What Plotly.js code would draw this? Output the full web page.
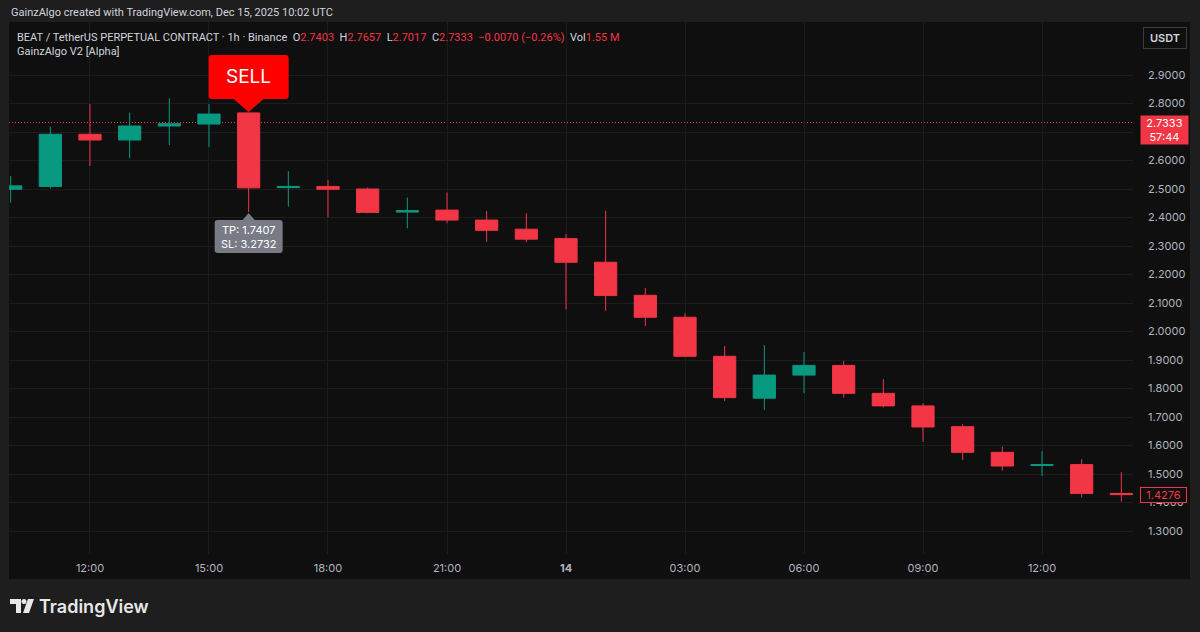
<!DOCTYPE html>
<html>
<head>
<meta charset="utf-8">
<script src="https://cdn.plot.ly/plotly-3.0.1.min.js"></script>
<style>
  html, body { margin: 0; padding: 0; background: #1e1e1e; }
  #chart { width: 1200px; height: 632px; }
</style>
</head>
<body>
<div id="chart"></div>
<script>
// ---- data ----
const times = [
  "2025-12-13 10:00","2025-12-13 11:00","2025-12-13 12:00","2025-12-13 13:00","2025-12-13 14:00",
  "2025-12-13 15:00","2025-12-13 16:00","2025-12-13 17:00","2025-12-13 18:00","2025-12-13 19:00",
  "2025-12-13 20:00","2025-12-13 21:00","2025-12-13 22:00","2025-12-13 23:00","2025-12-14 00:00",
  "2025-12-14 01:00","2025-12-14 02:00","2025-12-14 03:00","2025-12-14 04:00","2025-12-14 05:00",
  "2025-12-14 06:00","2025-12-14 07:00","2025-12-14 08:00","2025-12-14 09:00","2025-12-14 10:00",
  "2025-12-14 11:00","2025-12-14 12:00","2025-12-14 13:00","2025-12-14 14:00"
];
const opens  = [2.499,2.509,2.692,2.672,2.721,2.728,2.767,2.505,2.509,2.500,2.419,2.426,2.391,2.359,2.326,2.243,2.127,2.050,1.913,1.766,1.847,1.881,1.783,1.739,1.666,1.576,1.530,1.533,1.432];
const highs  = [2.546,2.719,2.798,2.768,2.818,2.798,2.767,2.563,2.532,2.505,2.470,2.488,2.423,2.415,2.342,2.424,2.153,2.064,1.949,1.952,1.928,1.897,1.833,1.748,1.675,1.596,1.581,1.552,1.506];
const lows   = [2.452,2.502,2.581,2.608,2.654,2.648,2.419,2.438,2.401,2.415,2.362,2.380,2.315,2.313,2.078,2.073,2.019,1.913,1.756,1.725,1.783,1.768,1.734,1.613,1.549,1.512,1.493,1.418,1.403];
const closes = [2.511,2.692,2.672,2.721,2.729,2.763,2.504,2.509,2.499,2.418,2.424,2.391,2.355,2.324,2.243,2.126,2.050,1.913,1.768,1.847,1.881,1.783,1.739,1.665,1.576,1.528,1.533,1.432,1.4276];

const xTickVals = ["2025-12-13 12:00","2025-12-13 15:00","2025-12-13 18:00","2025-12-13 21:00","2025-12-14 00:00","2025-12-14 03:00","2025-12-14 06:00","2025-12-14 09:00","2025-12-14 12:00"];
const xTickText = ["12:00","15:00","18:00","21:00","<b>14</b>","03:00","06:00","09:00","12:00"];
const yTickVals = [1.3,1.4,1.5,1.6,1.7,1.8,1.9,2.0,2.1,2.2,2.3,2.4,2.5,2.6,2.7,2.8,2.9];
// 2.7000 is hidden behind the live price label in the reference
const yTickText = ["1.3000","1.4000","1.5000","1.6000","1.7000","1.8000","1.9000","2.0000","2.1000","2.2000","2.3000","2.4000","2.5000","2.6000","","2.8000","2.9000"];

const sellIdx = 6;
const tpValue = "1.7407";
const slValue = "3.2732";
const headerOHLC = { o: "2.7403", h: "2.7657", l: "2.7017", c: "2.7333", chg: "−0.0070 (−0.26%)", vol: "1.55 M" };
const priceLine = 2.7333;
const countdown = "57:44";
const lastPrice = closes[closes.length - 1];

// ---- style ----
const UP = "#089981", DOWN = "#f23645";
const PANEL = "#0f0f0f", OUTER = "#1e1e1e", GRID = "#1c1c1c";
const TXT = "#d1d4dc", AXT = "#b2b5be";
const FONT = "Inter, 'Noto Sans', sans-serif";
const FONT2 = "Roboto, 'Liberation Sans', sans-serif";

// plot area in pixels
const L = 9, R = 1133, T = 22, B = 554;
const W = R - L, H = B - T;
const px = v => (v - L) / W;
const py = v => (B - v) / H;

const trace = {
  type: "candlestick",
  x: times, open: opens, high: highs, low: lows, close: closes,
  increasing: { line: { color: UP, width: 1 }, fillcolor: UP },
  decreasing: { line: { color: DOWN, width: 1 }, fillcolor: DOWN },
  whiskerwidth: 0,
  hoverinfo: "skip",
  showlegend: false
};

const red = s => `<span style="color:${DOWN}">${s}</span>`;
const sp = "&nbsp;&nbsp;";
const legendText =
  `BEAT / TetherUS PERPETUAL CONTRACT · 1h · Binance${sp}` +
  `O${red(headerOHLC.o)}${sp}H${red(headerOHLC.h)}${sp}L${red(headerOHLC.l)}${sp}C${red(headerOHLC.c)}${sp}` +
  `${red(headerOHLC.chg)}${sp}Vol${red(headerOHLC.vol)}`;

const sellBox = "M-37,58 L37,58 Q40,58 40,55 L40,17 Q40,14 37,14 L15,14 L0,1 L-15,14 L-37,14 Q-40,14 -40,17 L-40,55 Q-40,58 -37,58 Z";
const tpBox = "M-31,-41 L31,-41 Q34,-41 34,-38 L34,-11 Q34,-8 31,-8 L6,-8 L0,-1 L-6,-8 L-31,-8 Q-34,-8 -34,-11 L-34,-38 Q-34,-41 -31,-41 Z";

const logoT = `M${px(10)},${py(599)} L${px(21)},${py(599)} L${px(21)},${py(613)} L${px(16)},${py(613)} L${px(16)},${py(604)} L${px(10)},${py(604)} Z`;
const logoSlash = `M${px(28)},${py(599)} L${px(34)},${py(599)} L${px(29)},${py(613)} L${px(23)},${py(613)} Z`;

const layout = {
  width: 1200, height: 632,
  margin: { l: L, r: 1200 - R, t: T, b: 632 - B, pad: 0 },
  paper_bgcolor: OUTER,
  plot_bgcolor: PANEL,
  font: { family: FONT, color: TXT, size: 11 },
  boxgap: 0.2,
  showlegend: false,
  hovermode: false,
  dragmode: false,
  xaxis: {
    type: "date",
    range: ["2025-12-13 09:57:30", "2025-12-14 14:17:38"],
    rangeslider: { visible: false },
    tickmode: "array", tickvals: xTickVals, ticktext: xTickText,
    showgrid: true, gridcolor: GRID, gridwidth: 1,
    zeroline: false, showline: false, ticks: "",
    tickfont: { family: FONT, size: 11, color: AXT },
    ticklabelstandoff: 6,
    fixedrange: true
  },
  yaxis: {
    side: "right",
    range: [1.2193, 3.086],
    tickmode: "array", tickvals: yTickVals, ticktext: yTickText,
    showgrid: true, gridcolor: GRID, gridwidth: 1,
    zeroline: false, showline: false, ticks: "",
    tickfont: { family: FONT, size: 11, color: AXT },
    ticklabelstandoff: 14,
    fixedrange: true
  },
  shapes: [
    { type: "rect", xref: "paper", yref: "paper", x0: 0, x1: px(1190), y0: py(579), y1: 1,
      fillcolor: PANEL, line: { width: 0 }, layer: "below" },
    { type: "line", xref: "paper", yref: "y", x0: 0, x1: 1, y0: priceLine, y1: priceLine,
      line: { color: DOWN, width: 1, dash: "1px,2px" }, layer: "below" },
    { type: "path", xref: "x", yref: "y", xsizemode: "pixel", ysizemode: "pixel",
      xanchor: times[sellIdx], yanchor: highs[sellIdx], path: sellBox,
      fillcolor: "#ff0000", line: { width: 0 } },
    { type: "path", xref: "x", yref: "y", xsizemode: "pixel", ysizemode: "pixel",
      xanchor: times[sellIdx], yanchor: lows[sellIdx], path: tpBox,
      fillcolor: "#787b86", line: { width: 0 } },
    { type: "path", xref: "paper", yref: "paper", path: logoT, fillcolor: "#e8e8e8", line: { width: 0 } },
    { type: "circle", xref: "paper", yref: "paper", x0: px(21.5), x1: px(26.5), y0: py(604), y1: py(599),
      fillcolor: "#e8e8e8", line: { width: 0 } },
    { type: "path", xref: "paper", yref: "paper", path: logoSlash, fillcolor: "#e8e8e8", line: { width: 0 } }
  ],
  annotations: [
    { xref: "paper", yref: "paper", x: px(9), y: py(13), xanchor: "left", yanchor: "middle",
      text: "GainzAlgo created with TradingView.com, Dec 15, 2025 10:02 UTC", showarrow: false,
      font: { family: FONT2, size: 11, color: TXT } },
    { xref: "paper", yref: "paper", x: px(15), y: py(37), xanchor: "left", yanchor: "middle",
      text: legendText, showarrow: false, font: { family: FONT2, size: 11, color: TXT } },
    { xref: "paper", yref: "paper", x: px(15), y: py(51), xanchor: "left", yanchor: "middle",
      text: "GainzAlgo V2 [Alpha]", showarrow: false, font: { family: FONT2, size: 11, color: TXT } },
    { xref: "paper", yref: "paper", x: px(1165), y: py(37.5), xanchor: "center", yanchor: "middle",
      text: "USDT", showarrow: false, width: 38, height: 16, bgcolor: PANEL,
      bordercolor: "#3a3d45", borderwidth: 1, borderpad: 2,
      font: { family: FONT, size: 11, color: TXT, weight: 600 } },
    { xref: "x", yref: "y", x: times[sellIdx], y: highs[sellIdx], yshift: 36, showarrow: false,
      text: "SELL", font: { family: FONT, size: 19, color: "#ffffff" } },
    { xref: "x", yref: "y", x: times[sellIdx], y: lows[sellIdx], yshift: -24.5, showarrow: false,
      text: `TP: ${tpValue}<br>SL: ${slValue}`, font: { family: FONT, size: 11, color: "#ffffff" } },
    { xref: "paper", yref: "y", x: px(1140), y: priceLine, yanchor: "top", xanchor: "left", yshift: 8,
      text: `${priceLine.toFixed(4)}<br>${countdown}`, showarrow: false, align: "center",
      width: 45, height: 26, bgcolor: DOWN, borderpad: 1,
      font: { family: FONT, size: 11, color: "#ffffff" } },
    { xref: "paper", yref: "y", x: px(1140), y: lastPrice, yanchor: "middle", xanchor: "left",
      text: lastPrice.toFixed(4), showarrow: false, align: "center",
      width: 43, height: 12, bgcolor: PANEL, bordercolor: DOWN, borderwidth: 1, borderpad: 1,
      font: { family: FONT, size: 11, color: DOWN } },
    { xref: "paper", yref: "paper", x: px(37), y: py(606), xanchor: "left", yanchor: "middle",
      text: "TradingView", showarrow: false, font: { family: FONT, size: 18, color: "#e8e8e8", weight: 600 } }
  ]
};

Plotly.newPlot("chart", [trace], layout, { displayModeBar: false, staticPlot: true });
</script>
</body>
</html>
